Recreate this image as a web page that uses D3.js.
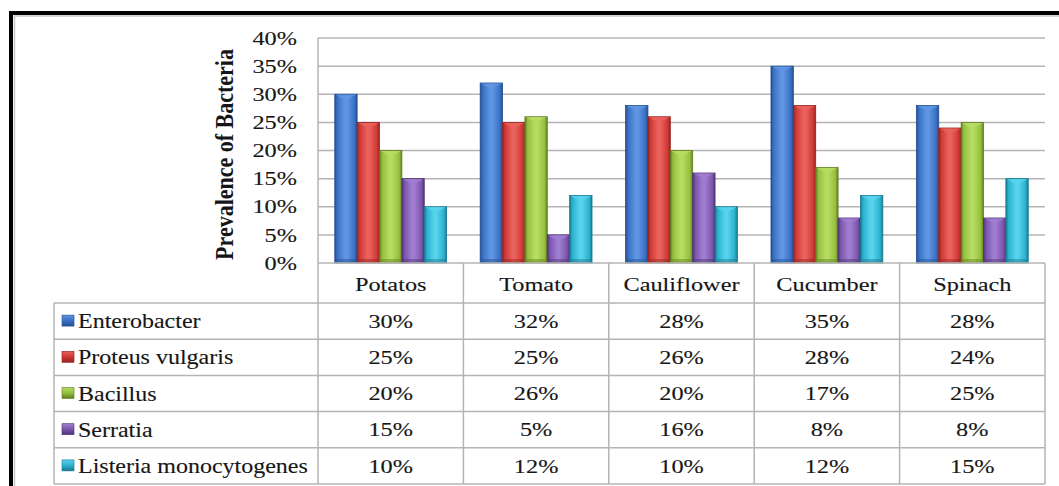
<!DOCTYPE html>
<html>
<head>
<meta charset="utf-8">
<script src="https://cdn.jsdelivr.net/npm/d3@7"></script>
<style>
  html, body { margin: 0; padding: 0; background: #fff; }
  svg { display: block; }
</style>
</head>
<body>
<svg id="chart" width="1059" height="486"></svg>
<script>
// Prevalence of bacteria per vegetable (fractions)
const categories = ["Potatos", "Tomato", "Cauliflower", "Cucumber", "Spinach"];
const seriesNames = ["Enterobacter", "Proteus vulgaris", "Bacillus", "Serratia", "Listeria monocytogenes"];
const enterobacter = [0.30, 0.32, 0.28, 0.35, 0.28];
const proteusVulgaris = [0.25, 0.25, 0.26, 0.28, 0.24];
const bacillus = [0.20, 0.26, 0.20, 0.17, 0.25];
const serratia = [0.15, 0.05, 0.16, 0.08, 0.08];
const listeria = [0.10, 0.12, 0.10, 0.12, 0.15];
const yTicks = [0, 0.05, 0.10, 0.15, 0.20, 0.25, 0.30, 0.35, 0.40];
const yTitle = "Prevalence of Bacteria";

const seriesValues = [enterobacter, proteusVulgaris, bacillus, serratia, listeria];

// bevel shades per series: [dark edge, base, highlight]
const palette = [
  ["#244f92", "#3b71c4", "#5f95e2"],
  ["#922421", "#d03935", "#ea625c"],
  ["#617d22", "#95bf3d", "#b6dc62"],
  ["#4e3374", "#7b55ad", "#9f7dd0"],
  ["#187890", "#2bb1ce", "#58d3ec"]
];

const FONT = "'Liberation Serif', 'Times New Roman', Tinos, serif";
const TEXT_COLOR = "#161616";

const svg = d3.select("#chart");
const plotLeft = 318, plotRight = 1045, plotTop = 38, plotBottom = 263;
const tableLeft = 54, headerBottom = 303, rowH = 36.2;
const gridColor = "#b4b4b4";
const sx = 1.28; // horizontal text stretch

const x = d3.scaleBand().domain(categories).range([plotLeft, plotRight]).padding(0);
const W = x.bandwidth();
const barW = W / 6.5;
const xs = d3.scaleBand().domain(seriesNames).range([0.75 * barW, W - 0.75 * barW]).padding(0);
const y = d3.scaleLinear().domain([0, 0.40]).range([plotBottom, plotTop]);
const fmt = d3.format(".0%");

function styleText(sel, size, weight) {
  return sel.style("font-family", FONT).style("font-size", size + "px")
    .style("font-weight", weight || "normal").style("fill", TEXT_COLOR)
    .style("stroke", weight ? "none" : TEXT_COLOR).style("stroke-width", 0.12);
}

// gradients
const defs = svg.append("defs");
palette.forEach((c, i) => {
  const g = defs.append("linearGradient").attr("id", "bar" + i)
    .attr("x1", "0").attr("x2", "1").attr("y1", "0").attr("y2", "0");
  [[0, c[0]], [0.12, c[1]], [0.45, c[2]], [0.55, c[2]], [0.88, c[1]], [1, c[0]]]
    .forEach(([o, col]) => g.append("stop").attr("offset", o).attr("stop-color", col));
  const k = defs.append("linearGradient").attr("id", "key" + i)
    .attr("x1", "0").attr("x2", "0").attr("y1", "0").attr("y2", "1");
  [[0, c[2]], [0.5, c[1]], [1, c[0]]]
    .forEach(([o, col]) => k.append("stop").attr("offset", o).attr("stop-color", col));
});

// outer frame
svg.append("path").attr("d", "M11,486 V13 H1059").attr("fill", "none")
  .attr("stroke", "#000").attr("stroke-width", 4);
svg.append("path").attr("d", "M14.5,486 V16 H1059").attr("fill", "none")
  .attr("stroke", "#c8c8c8").attr("stroke-width", 1.5);

// gridlines
svg.append("g").selectAll("line").data(yTicks.filter(t => t > 0)).join("line")
  .attr("x1", plotLeft).attr("x2", plotRight)
  .attr("y1", d => y(d)).attr("y2", d => y(d))
  .attr("stroke", gridColor).attr("stroke-width", 1.5);

// y tick labels
styleText(svg.append("g").selectAll("text").data(yTicks).join("text")
  .attr("transform", d => `translate(297,${y(d)}) scale(${sx},1)`)
  .attr("text-anchor", "end").attr("dy", "0.35em"), 19)
  .text(d => fmt(d));

// y axis title
styleText(svg.append("text")
  .attr("transform", `translate(224,${(plotTop + plotBottom) / 2 + 4}) scale(1.15,1) rotate(-90)`)
  .attr("text-anchor", "middle").attr("dy", "0.35em"), 22, "bold")
  .text(yTitle);

// bars
const groups = svg.append("g").selectAll("g").data(categories).join("g")
  .attr("transform", d => `translate(${x(d)},0)`);
groups.each(function (cat, ci) {
  const g = d3.select(this);
  seriesNames.forEach((s, si) => {
    const v = seriesValues[si][ci];
    const bx = xs(s), bw = xs.bandwidth(), top = y(v), h = y(0) - y(v);
    g.append("rect").attr("x", bx).attr("y", top).attr("width", bw).attr("height", h)
      .attr("fill", `url(#bar${si})`).attr("stroke", palette[si][0]).attr("stroke-width", 0.8);
    // bevelled cap
    const cap = Math.min(6, h / 2);
    g.append("path")
      .attr("d", `M${bx + 1},${top + 0.5} L${bx + bw - 1},${top + 0.5} L${bx + bw / 2},${top + cap} Z`)
      .attr("fill", palette[si][2]).attr("opacity", 0.85);
    g.append("rect").attr("x", bx + 1).attr("y", y(0) - 4).attr("width", bw - 2).attr("height", 3.5)
      .attr("fill", palette[si][0]).attr("opacity", 0.45);
  });
});

// plot left edge
svg.append("line").attr("x1", plotLeft).attr("x2", plotLeft).attr("y1", plotTop).attr("y2", plotBottom)
  .attr("stroke", gridColor).attr("stroke-width", 1.5);

// data table
const table = svg.append("g");
const rowY = i => headerBottom + i * rowH;
const tableBottom = rowY(seriesNames.length);
// horizontal rules
table.append("line").attr("x1", plotLeft).attr("x2", plotRight)
  .attr("y1", plotBottom).attr("y2", plotBottom).attr("stroke", gridColor).attr("stroke-width", 1.5);
table.selectAll("line.h").data(d3.range(seriesNames.length + 1)).join("line").attr("class", "h")
  .attr("x1", tableLeft).attr("x2", plotRight)
  .attr("y1", d => rowY(d)).attr("y2", d => rowY(d))
  .attr("stroke", gridColor).attr("stroke-width", 1.5);
// vertical rules
const colEdges = categories.map(c => x(c)).concat([plotRight]);
table.selectAll("line.v").data(colEdges).join("line").attr("class", "v")
  .attr("x1", d => d).attr("x2", d => d).attr("y1", plotBottom).attr("y2", tableBottom)
  .attr("stroke", gridColor).attr("stroke-width", 1.5);
table.append("line").attr("x1", tableLeft).attr("x2", tableLeft)
  .attr("y1", headerBottom).attr("y2", tableBottom).attr("stroke", gridColor).attr("stroke-width", 1.5);

// header: category names
styleText(table.selectAll("text.cat").data(categories).join("text").attr("class", "cat")
  .attr("transform", d => `translate(${x(d) + W / 2},${(plotBottom + headerBottom) / 2 + 1}) scale(${sx},1)`)
  .attr("text-anchor", "middle").attr("dy", "0.35em"), 19)
  .text(d => d);

// legend keys, series names and values
seriesNames.forEach((s, si) => {
  const cy = rowY(si) + rowH / 2;
  table.append("rect").attr("x", 62).attr("y", cy - 6).attr("width", 12).attr("height", 11)
    .attr("fill", `url(#key${si})`).attr("stroke", palette[si][0]).attr("stroke-width", 0.6);
  styleText(table.append("text")
    .attr("transform", `translate(78,${cy}) scale(1.2,1)`)
    .attr("dy", "0.35em"), 20)
    .text(s);
  styleText(table.selectAll(null).data(seriesValues[si]).join("text")
    .attr("transform", (d, ci) => `translate(${x(categories[ci]) + W / 2},${cy}) scale(${sx},1)`)
    .attr("text-anchor", "middle").attr("dy", "0.35em"), 19)
    .text(d => fmt(d));
});
</script>
</body>
</html>
